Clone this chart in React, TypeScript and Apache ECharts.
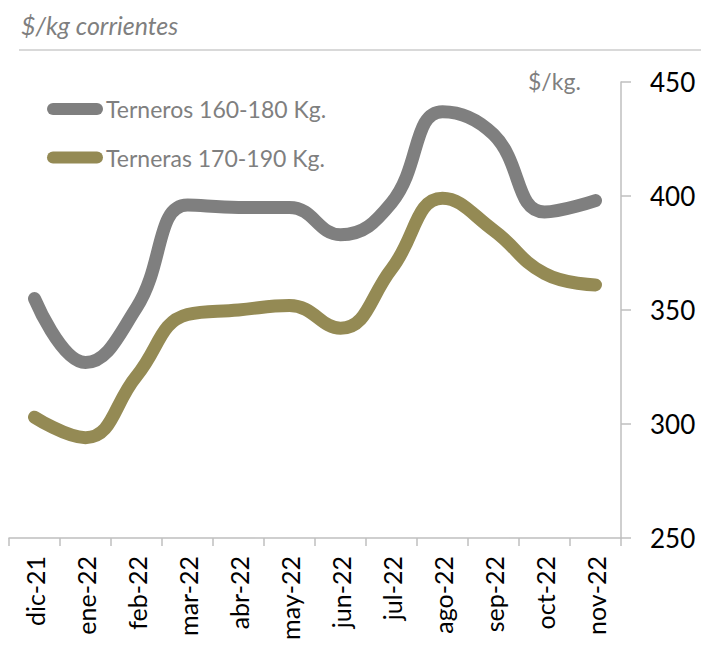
import React, { useEffect, useRef } from "react";
import * as echarts from "echarts";

const categories = ["dic-21", "ene-22", "feb-22", "mar-22", "abr-22", "may-22", "jun-22", "jul-22", "ago-22", "sep-22", "oct-22", "nov-22"];
const terneros = [355, 327, 351, 396, 395, 395, 383, 397, 437, 427, 393, 398];
const terneras = [303, 294, 321, 348, 350, 352, 342, 368, 399, 385, 366, 361];
const yTicks = { min: 250, max: 450, interval: 50 };

const FONT = "Lato, 'Noto Sans', sans-serif";
const capsule = "path://M6,0L50,0A6,6,0,0,1,50,12L6,12A6,6,0,0,1,6,0Z";

export default function App() {
  const ref = useRef<HTMLDivElement>(null);
  useEffect(() => {
    document.body.style.margin = "0";
    const chart = echarts.init(ref.current!, null, { renderer: "svg" });
    chart.setOption({
      animation: false,
      backgroundColor: "#ffffff",
      textStyle: { fontFamily: FONT },
      grid: { left: 9, right: 80, top: 82, bottom: 134, containLabel: false },
      legend: {
        orient: "vertical",
        left: 47,
        top: 97,
        padding: 0,
        itemWidth: 56,
        itemHeight: 12,
        itemGap: 24.5,
        icon: capsule,
        textStyle: { fontSize: 23, color: "#7f7f7f", fontFamily: FONT, lineHeight: 24, padding: [0, 0, 0, -2] },
        data: ["Terneros 160-180 Kg.", "Terneras 170-190 Kg."],
      },
      graphic: [
        {
          type: "text",
          left: 21,
          top: 12,
          style: { text: "$/kg corrientes", font: `italic 25px ${FONT}`, fill: "#7f7f7f" },
        },
        {
          type: "line",
          shape: { x1: 19, y1: 50, x2: 701, y2: 50 },
          style: { stroke: "#d9d9d9", lineWidth: 2 },
        },
        {
          type: "text",
          left: 528,
          top: 69,
          style: { text: "$/kg.", font: `23px ${FONT}`, fill: "#7f7f7f" },
        },
      ],
      xAxis: {
        type: "category",
        data: categories,
        boundaryGap: true,
        axisLine: { show: true, lineStyle: { color: "#bfbfbf", width: 1.5 } },
        axisTick: { show: true, length: 8, lineStyle: { color: "#bfbfbf", width: 1.5 } },
        axisLabel: { rotate: 90, fontSize: 25, color: "#000000", margin: 18, fontFamily: FONT },
        splitLine: { show: false },
      },
      yAxis: {
        type: "value",
        position: "right",
        min: yTicks.min,
        max: yTicks.max,
        interval: yTicks.interval,
        axisLine: { show: true, lineStyle: { color: "#bfbfbf", width: 1.5 } },
        axisTick: { show: true, length: 10, lineStyle: { color: "#bfbfbf", width: 1.5 } },
        axisLabel: { fontSize: 26, color: "#000000", margin: 29, fontFamily: FONT },
        splitLine: { show: false },
      },
      series: [
        {
          name: "Terneros 160-180 Kg.",
          type: "line",
          data: terneros,
          smooth: 0.45,
          symbol: "none",
          itemStyle: { color: "#7f7f7f" },
          lineStyle: { color: "#7f7f7f", width: 13, cap: "round", join: "round" },
        },
        {
          name: "Terneras 170-190 Kg.",
          type: "line",
          data: terneras,
          smooth: 0.45,
          symbol: "none",
          itemStyle: { color: "#948a54" },
          lineStyle: { color: "#948a54", width: 13, cap: "round", join: "round" },
        },
      ],
    });
    return () => chart.dispose();
  }, []);
  return <div ref={ref} style={{ position: "absolute", left: 0, top: 0, width: 701, height: 672 }} />;
}
